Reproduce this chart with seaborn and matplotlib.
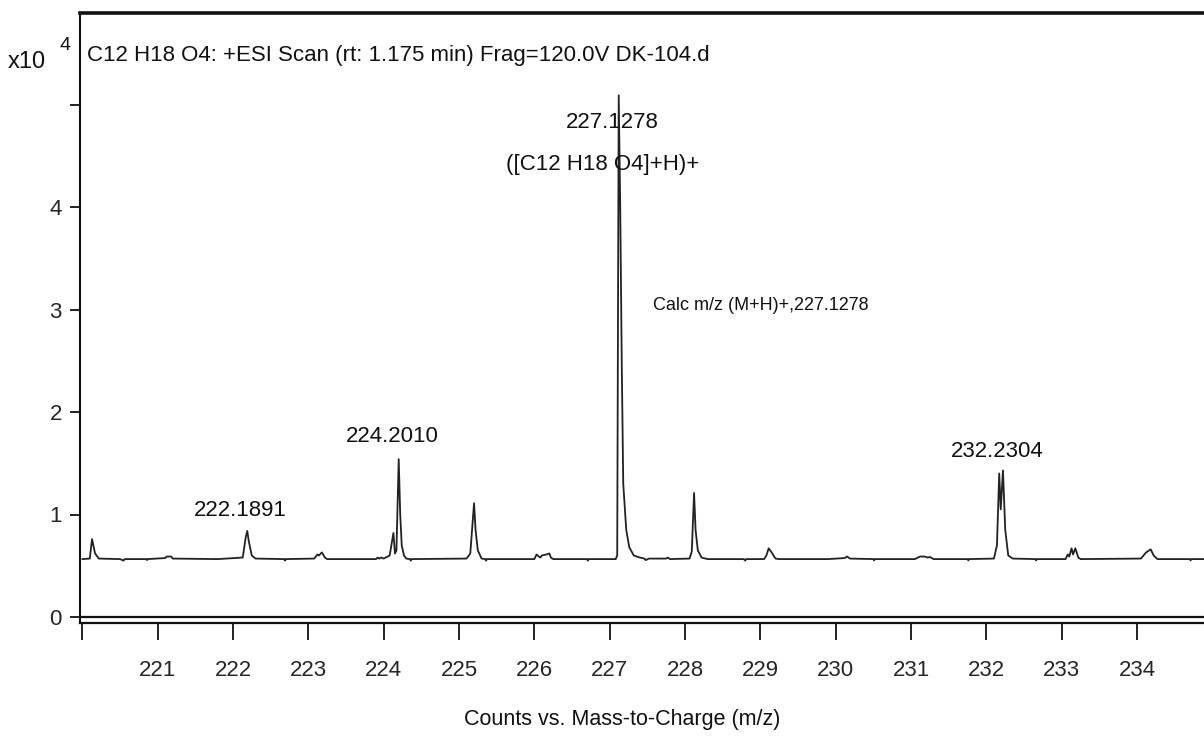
import matplotlib
matplotlib.use("Agg")
import matplotlib.pyplot as plt
import seaborn as sns
import pandas as pd

# ---- data ----
mz = [220.00, 220.10, 220.13, 220.17, 220.22, 220.50, 220.55, 220.56, 220.85, 220.86, 220.87,
      221.10, 221.12, 221.18, 221.20, 221.80, 222.13, 222.17, 222.19, 222.21, 222.25, 222.30,
      222.68, 222.69, 222.70, 223.08, 223.12, 223.14, 223.18, 223.22, 223.25,
      223.90, 223.92, 223.94, 223.97, 224.00, 224.08, 224.13, 224.15, 224.17, 224.20, 224.22,
      224.24, 224.27, 224.30, 224.35, 224.36, 224.37,
      225.10, 225.15, 225.20, 225.22, 225.25, 225.30, 225.35, 225.36, 225.37,
      226.00, 226.03, 226.06, 226.08, 226.10, 226.16, 226.20, 226.22, 226.25,
      226.70, 226.71, 226.72, 227.08, 227.10, 227.12, 227.14, 227.16, 227.18, 227.22, 227.26,
      227.32, 227.40, 227.46, 227.48, 227.52, 227.75, 227.77, 227.80,
      228.06, 228.09, 228.12, 228.14, 228.17, 228.22, 228.30, 228.78, 228.80, 228.81,
      229.05, 229.08, 229.11, 229.15, 229.20, 229.25, 229.90, 230.12, 230.15, 230.19,
      230.50, 230.51, 230.52, 231.05, 231.12, 231.18, 231.22, 231.25, 231.30,
      231.75, 231.76, 231.77, 232.10, 232.14, 232.17, 232.19, 232.22, 232.25, 232.29, 232.35,
      232.65, 232.66, 232.67, 233.05, 233.08, 233.10, 233.13, 233.15, 233.18, 233.22, 233.25,
      234.05, 234.12, 234.18, 234.22, 234.27, 234.70, 234.71, 234.72, 234.95]
counts = [0.565, 0.570, 0.760, 0.620, 0.570, 0.565, 0.550, 0.565, 0.565, 0.555, 0.565,
          0.575, 0.590, 0.590, 0.570, 0.565, 0.580, 0.780, 0.840, 0.740, 0.600, 0.570,
          0.565, 0.550, 0.565, 0.570, 0.610, 0.600, 0.630, 0.580, 0.565,
          0.565, 0.580, 0.570, 0.580, 0.570, 0.600, 0.820, 0.620, 0.650, 1.540, 1.000,
          0.700, 0.600, 0.570, 0.565, 0.550, 0.565,
          0.570, 0.620, 1.110, 0.850, 0.650, 0.570, 0.565, 0.550, 0.565,
          0.565, 0.610, 0.590, 0.580, 0.600, 0.610, 0.620, 0.580, 0.565,
          0.565, 0.550, 0.565, 0.565, 0.600, 5.090, 4.000, 2.500, 1.300, 0.850, 0.680,
          0.600, 0.580, 0.570, 0.555, 0.570, 0.570, 0.580, 0.565,
          0.570, 0.640, 1.210, 0.850, 0.650, 0.580, 0.565, 0.565, 0.550, 0.565,
          0.565, 0.600, 0.670, 0.630, 0.570, 0.565, 0.565, 0.575, 0.590, 0.570,
          0.565, 0.552, 0.565, 0.565, 0.590, 0.590, 0.580, 0.585, 0.565,
          0.565, 0.552, 0.565, 0.570, 0.700, 1.400, 1.050, 1.430, 0.850, 0.600, 0.570,
          0.565, 0.552, 0.565, 0.565, 0.610, 0.590, 0.670, 0.610, 0.670, 0.580, 0.565,
          0.570, 0.630, 0.660, 0.600, 0.565, 0.565, 0.552, 0.565, 0.565]

label_texts = ["222.1891", "224.2010", "227.1278", "([C12 H18 O4]+H)+",
               "Calc m/z (M+H)+,227.1278", "232.2304"]
label_x = [222.10, 224.12, 227.03, 226.91, 229.00, 232.14]
label_y = [1.04, 1.76, 4.82, 4.41, 3.04, 1.61]
label_sizes = [16, 16, 16, 16, 13, 16]

x_ticks = list(range(220, 235))
x_ticklabels = [""] + [str(v) for v in range(221, 235)]
y_ticks = [0, 1, 2, 3, 4, 5]
y_ticklabels = ["0", "1", "2", "3", "4", ""]

title_text = "C12 H18 O4: +ESI Scan (rt: 1.175 min) Frag=120.0V DK-104.d"
xlabel_text = "Counts vs. Mass-to-Charge (m/z)"

# ---- style ----
sns.set_style("white")
FONT = ["Liberation Sans Narrow", "Liberation Sans", "DejaVu Sans"]
plt.rcParams["font.family"] = FONT

W, H = 1204, 744
fig = plt.figure(figsize=(W / 100, H / 100), dpi=100)
ax_left = 80 / W
ax = fig.add_axes([ax_left, 1 - 623 / H, 1 - ax_left + 0.002, (623 - 13) / H])

df = pd.DataFrame({"mz": mz, "counts": counts})
sns.lineplot(data=df, x="mz", y="counts", ax=ax, color="#222222", lw=1.3,
             estimator=None, sort=False)

ax.axhline(0, color="#111111", lw=1.6)
ax.set_xlim(219.97, 234.92)
ax.set_ylim(-6 / 102.5, (617 - 13) / 102.5)

ax.set_xticks(x_ticks)
ax.set_xticklabels(x_ticklabels)
ax.set_yticks(y_ticks)
ax.set_yticklabels(y_ticklabels)
ax.tick_params(axis="x", direction="out", length=12, width=1.3, color="#111111",
               labelsize=16, pad=15, bottom=True)
ax.tick_params(axis="y", direction="out", length=7, width=1.3, color="#111111",
               labelsize=16, pad=6, left=True)

for side in ["left", "bottom", "top"]:
    ax.spines[side].set_visible(True)
    ax.spines[side].set_color("#111111")
ax.spines["left"].set_linewidth(1.5)
ax.spines["bottom"].set_linewidth(1.6)
ax.spines["top"].set_linewidth(2.6)
ax.spines["right"].set_visible(False)

ax_w_px = W - 80
ax.set_xlabel(xlabel_text, fontsize=15.5, color="#111111")
ax.xaxis.set_label_coords((621 - 80) / ax_w_px, -(720 - 623) / 610, transform=ax.transAxes)
ax.xaxis.label.set_va("center")
ax.set_ylabel("")

ax.text(0.006, 0.931, title_text, transform=ax.transAxes, ha="left", va="center",
        fontsize=16, color="#111111")

for t, xx, yy, s in zip(label_texts, label_x, label_y, label_sizes):
    ax.text(xx, yy, t, ha="center", va="center", fontsize=s, color="#111111")

fig.text(8 / W, 1 - 62 / H, "x10", ha="left", va="center", fontsize=17, color="#111111")
fig.text(60 / W, 1 - 45 / H, "4", ha="left", va="center", fontsize=14, color="#111111")

fig.savefig("out.png", dpi=100)
